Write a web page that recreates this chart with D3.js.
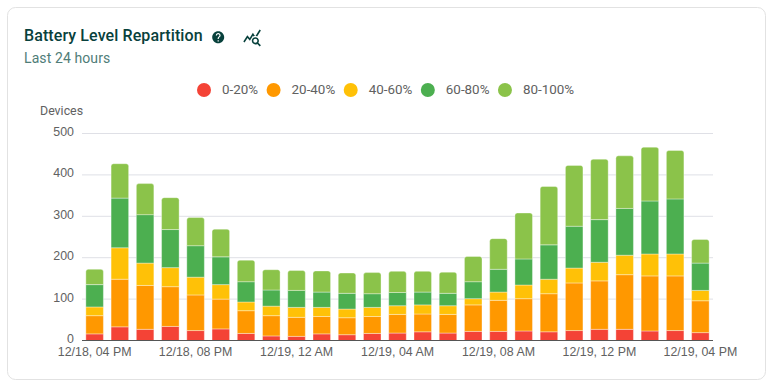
<!DOCTYPE html>
<html>
<head>
<meta charset="utf-8">
<script src="https://cdn.jsdelivr.net/npm/d3@7"></script>
<style>
  html, body { margin: 0; padding: 0; background: #fff; }
  svg { display: block; font-family: Roboto, sans-serif; }
  .tick text { font-size: 12.4px; fill: #616161; }
  .chart-title { font-size: 16px; font-weight: 500; fill: #08413c; letter-spacing: 0.1px; }
  .chart-sub { font-size: 14px; fill: #4f7d78; letter-spacing: 0.1px; }
  .legend-label { font-size: 13.4px; fill: #616161; }
</style>
</head>
<body>
<div id="chart"></div>
<script>
const width = 775, height = 385;

const hours = ["12/18, 04 PM","12/18, 05 PM","12/18, 06 PM","12/18, 07 PM","12/18, 08 PM","12/18, 09 PM","12/18, 10 PM","12/18, 11 PM",
    "12/19, 12 AM","12/19, 01 AM","12/19, 02 AM","12/19, 03 AM","12/19, 04 AM","12/19, 05 AM","12/19, 06 AM","12/19, 07 AM",
    "12/19, 08 AM","12/19, 09 AM","12/19, 10 AM","12/19, 11 AM","12/19, 12 PM","12/19, 01 PM","12/19, 02 PM","12/19, 03 PM","12/19, 04 PM"];
const levels = ["0-20%","20-40%","40-60%","60-80%","80-100%"];
const colors = ["#f44336","#ff9800","#ffc107","#4caf50","#8bc34a"];

const level0 = [16,33,27,34,24,28,17,11,10,16,14,17,18,21,18,22,22,23,21,24,27,27,23,24,19];
const level20 = [44,115,106,96,86,72,55,49,46,42,41,41,45,43,45,64,75,78,92,115,117,132,133,132,77];
const level40 = [21,76,54,46,43,35,21,23,24,22,21,22,21,22,21,15,20,33,35,36,45,47,53,53,25];
const level60 = [54,120,117,92,76,67,49,39,41,37,38,33,32,31,30,41,55,63,83,101,103,113,128,133,66];
const level80 = [37,83,75,77,68,67,52,49,48,51,49,51,51,50,51,61,74,111,141,147,146,127,130,117,57];

const yTicks = [0,100,200,300,400,500];
const xTicks = hours.filter((d, i) => i % 4 === 0);

const margin = {left: 82, right: 62, top: 133.5, bottom: 44.5};

const table = hours.map((h, i) => ({
    hour: h,
    "0-20%": level0[i], "20-40%": level20[i], "40-60%": level40[i], "60-80%": level60[i], "80-100%": level80[i]
}));
const stacked = d3.stack().keys(levels)(table);

const svg = d3.select("#chart").append("svg").attr("width", width).attr("height", height);

// card
svg.append("rect")
    .attr("x", 7.5).attr("y", 7.5).attr("width", 758).attr("height", 372).attr("rx", 8)
    .attr("fill", "#fff").attr("stroke", "#e2e2e2");

// title
svg.append("text").attr("class", "chart-title").attr("x", 24).attr("y", 41).text("Battery Level Repartition");
svg.append("text").attr("class", "chart-sub").attr("x", 24).attr("y", 63).text("Last 24 hours");

svg.append("path")
    .attr("transform", "translate(211,30) scale(0.6)")
    .attr("fill", "#08413c")
    .attr("d", "M12 2C6.48 2 2 6.48 2 12s4.48 10 10 10 10-4.48 10-10S17.52 2 12 2zm1 17h-2v-2h2v2zm2.07-7.75l-.9.92C13.45 12.9 13 13.5 13 15h-2v-.5c0-1.1.45-2.1 1.17-2.83l1.24-1.26c.37-.36.59-.86.59-1.41 0-1.1-.9-2-2-2s-2 .9-2 2H8c0-2.21 1.79-4 4-4s4 1.79 4 4c0 .88-.36 1.68-.93 2.25z");
svg.append("path")
    .attr("transform", "translate(242.5,28) scale(0.8)")
    .attr("fill", "#08413c")
    .attr("d", "M19.88,18.47c0.44-0.7,0.7-1.51,0.7-2.39c0-2.49-2.01-4.5-4.5-4.5s-4.5,2.01-4.5,4.5s2.01,4.5,4.49,4.5c0.88,0,1.7-0.26,2.39-0.7 L21.58,23L23,21.58L19.88,18.47z M16.08,18.58c-1.38,0-2.5-1.12-2.5-2.5c0-1.38,1.12-2.5,2.5-2.5s2.5,1.12,2.5,2.5 C18.58,17.46,17.46,18.58,16.08,18.58z M15.72,10.08c-0.74,0.02-1.45,0.18-2.1,0.45l-0.55-0.83l-3.8,6.18l-3.01-3.52l-3.63,5.81 L1,17l5-8l3,3.5L13,6C13,6,15.72,10.08,15.72,10.08z M18.31,10.58c-0.64-0.28-1.33-0.45-2.05-0.49c0,0,5.12-8.09,5.12-8.09L23,3.18 L18.31,10.58z");

// legend
let legendX = 204;
levels.forEach((l, i) => {
    svg.append("circle").attr("cx", legendX).attr("cy", 90).attr("r", 7).attr("fill", colors[i]);
    const t = svg.append("text").attr("class", "legend-label")
        .attr("x", legendX + 18).attr("y", 94).text(l);
    legendX += 18 + t.node().getComputedTextLength() + 15.5;
});

const xScale = d3.scaleBand()
    .domain(hours)
    .range([margin.left, width - margin.right])
    .paddingInner(0.305)
    .paddingOuter(0.1525);
const yScale = d3.scaleLinear()
    .domain([0, 500])
    .range([height - margin.bottom, margin.top]);

// grid and y axis
const yAxis = svg.append("g")
    .attr("transform", `translate(${margin.left},0)`)
    .call(d3.axisLeft(yScale).tickValues(yTicks).tickSize(0).tickPadding(8).offset(0));
yAxis.select(".domain").remove();
yAxis.selectAll(".tick line")
    .attr("x2", width - margin.right - margin.left)
    .attr("stroke", "#dfe0e6");
yAxis.selectAll(".tick text").attr("y", -1.5);

svg.append("text").attr("x", 40).attr("y", 115)
    .attr("font-size", 12.4).attr("fill", "#616161").text("Devices");

// rounded top for the last series
const topBar = (x, y0, y1, w, r) => {
    const p = d3.path();
    p.moveTo(x, y0);
    p.lineTo(x, y1 + r);
    p.arcTo(x, y1, x + r, y1, r);
    p.lineTo(x + w - r, y1);
    p.arcTo(x + w, y1, x + w, y1 + r, r);
    p.lineTo(x + w, y0);
    p.closePath();
    return p.toString();
};

const series = svg.selectAll("g.series")
    .data(stacked)
    .enter()
    .append("g")
    .attr("class", "series")
    .attr("fill", (d, i) => colors[i])
    .attr("stroke", "#fff")
    .attr("stroke-opacity", 0.35);

series.selectAll("path")
    .data(d => d.map(v => ({v, hour: v.data.hour, top: d.index === levels.length - 1})))
    .enter()
    .append("path")
    .attr("d", d => topBar(xScale(d.hour), yScale(d.v[0]), yScale(d.v[1]), xScale.bandwidth(), d.top ? 2.5 : 0));

// x axis
const xAxis = svg.append("g")
    .attr("transform", `translate(0,${height - margin.bottom})`)
    .call(d3.axisBottom(xScale).tickValues(xTicks).tickSize(0).tickPadding(7).offset(0));
xAxis.select(".domain").attr("stroke", "#555").attr("stroke-width", 1);
</script>
</body>
</html>
